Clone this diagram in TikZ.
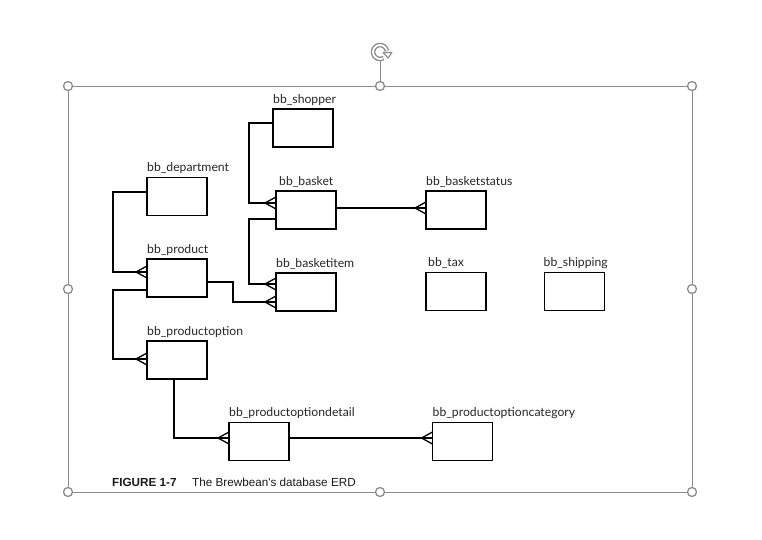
\documentclass[tikz,border=0pt]{standalone}
\usepackage{fontspec}
\setmainfont{Lato}
\newfontfamily\capfont{Liberation Sans}
\usetikzlibrary{calc,arrows.meta}
\tikzset{
  tbl/.style={draw=black,line width=1.3pt,minimum width=60pt,minimum height=38pt,inner sep=0pt,outer sep=0pt},
  lbl/.style={anchor=base west,inner sep=0pt,font=\fontsize{12.2}{13}\selectfont,text=black!85},
  conn/.style={line width=1.3pt,black},
  frame/.style={draw=black!45,line width=1pt},
  handle/.style={circle,draw=black!45,fill=white,line width=1.3pt,minimum size=9pt,inner sep=0pt},
  capt/.style={anchor=base west,inner sep=0pt,text=black!90}
}
\newcommand\crowfoot[1]{\draw[conn] ($(#1)+(-11,0)$) -- ($(#1)+(0,-6)$) ($(#1)+(-11,0)$) -- ($(#1)+(0,6)$);}
\begin{document}
\begin{tikzpicture}[x=1pt,y=-1pt]
\useasboundingbox (0,0) rectangle (762,539);
% selection frame
\draw[frame] (68,86) rectangle (692,492);
\coordinate (rot) at (380,52);
\node[handle] (hrot) at (380,86) {};
\draw[frame] (380,61) -- (hrot);
\foreach \p/\n in {{68,86}/h1,{692,86}/h3,{68,289}/h4,{692,289}/h5,{68,492}/h6,{380,492}/h7,{692,492}/h8}
  \node[handle] (\n) at (\p) {};
% rotate icon (outlined circular arrow)
\draw[black!45,line width=4.6pt] ($(rot)+(-10:7)$) arc (-10:-300:7);
\draw[white,line width=1.8pt] ($(rot)+(-14:7)$) arc (-14:-296:7);
\draw[black!45,line width=1.1pt,fill=white,line join=round] ($(rot)+(3,0.5)$) -- ($(rot)+(12,0.5)$) -- ($(rot)+(8,6)$) -- cycle;

% tables
\node[tbl] (shopper) at (303,128) {};
\node[tbl] (department) at (177,196.5) {};
\node[tbl] (basket) at (306,210) {};
\node[tbl] (basketstatus) at (456,210) {};
\node[tbl] (product) at (177,278) {};
\node[tbl] (basketitem) at (306,292) {};
\node[tbl] (tax) at (456,291.5) {};
\node[tbl] (shipping) at (574.5,291.5) {};
\node[tbl] (productoption) at (177,360) {};
\node[tbl] (pod) at (259,441.5) {};
\node[tbl] (poc) at (462.5,441.5) {};

% labels
\node[lbl] (l1) at ($(shopper.north west)+(0,-6)$) {bb\_shopper};
\node[lbl] (l2) at ($(department.north west)+(0,-6)$) {bb\_department};
\node[lbl] (l3) at ($(basket.north west)+(3,-6)$) {bb\_basket};
\node[lbl] (l4) at ($(basketstatus.north west)+(0,-6)$) {bb\_basketstatus};
\node[lbl] (l5) at ($(product.north west)+(0,-6)$) {bb\_product};
\node[lbl] (l6) at ($(basketitem.north west)+(0,-6)$) {bb\_basketitem};
\node[lbl] (l7) at ($(tax.north west)+(2,-6)$) {bb\_tax};
\node[lbl] (l8) at ($(shipping.north west)+(-1,-6)$) {bb\_shipping};
\node[lbl] (l9) at ($(productoption.north west)+(0,-6)$) {bb\_productoption};
\node[lbl] (l10) at ($(pod.north west)+(0,-6)$) {bb\_productoptiondetail};
\node[lbl] (l11) at ($(poc.north west)+(0,-6)$) {bb\_productoptioncategory};

% foot coordinates
\coordinate (fb) at ($(basket.west)+(0,-7)$);
\coordinate (fs) at ($(basketstatus.west)+(0,-2)$);
\coordinate (fp) at ($(product.west)+(0,-6)$);
\coordinate (fi1) at ($(basketitem.west)+(0,-8)$);
\coordinate (fi2) at ($(basketitem.west)+(0,10)$);
\coordinate (fo) at ($(productoption.west)+(0,-1)$);
\coordinate (fd) at ($(pod.west)+(0,-3.5)$);
\coordinate (fc) at ($(poc.west)+(0,-3.5)$);

% connectors
\draw[conn] ($(shopper.west)+(0,-5)$) -- ++(-24,0) |- (fb);
\draw[conn] ($(basket.east)+(0,-2)$) -- (fs);
\draw[conn] ($(department.west)+(0,-4.5)$) -- ++(-34,0) |- (fp);
\draw[conn] ($(basket.west)+(0,9)$) -- ++(-27,0) |- (fi1);
\draw[conn] ($(product.east)+(0,4)$) -- ++(26,0) |- (fi2);
\draw[conn] ($(product.west)+(0,12)$) -- ++(-34,0) |- (fo);
\draw[conn] ($(productoption.south)+(-3,0)$) |- (fd);
\draw[conn] ($(pod.east)+(0,-3.5)$) -- (fc);
\crowfoot{fb}
\crowfoot{fs}
\crowfoot{fp}
\crowfoot{fi1}
\crowfoot{fi2}
\crowfoot{fo}
\crowfoot{fd}
\crowfoot{fc}

% caption
\node[capt,font=\capfont\bfseries\fontsize{11.7}{13}\selectfont] (cap1) at (112,486) {FIGURE 1-7};
\node[capt,font=\capfont\fontsize{11.7}{13}\selectfont] (cap2) at (192,486) {The Brewbean's database ERD};
\end{tikzpicture}
\end{document}
